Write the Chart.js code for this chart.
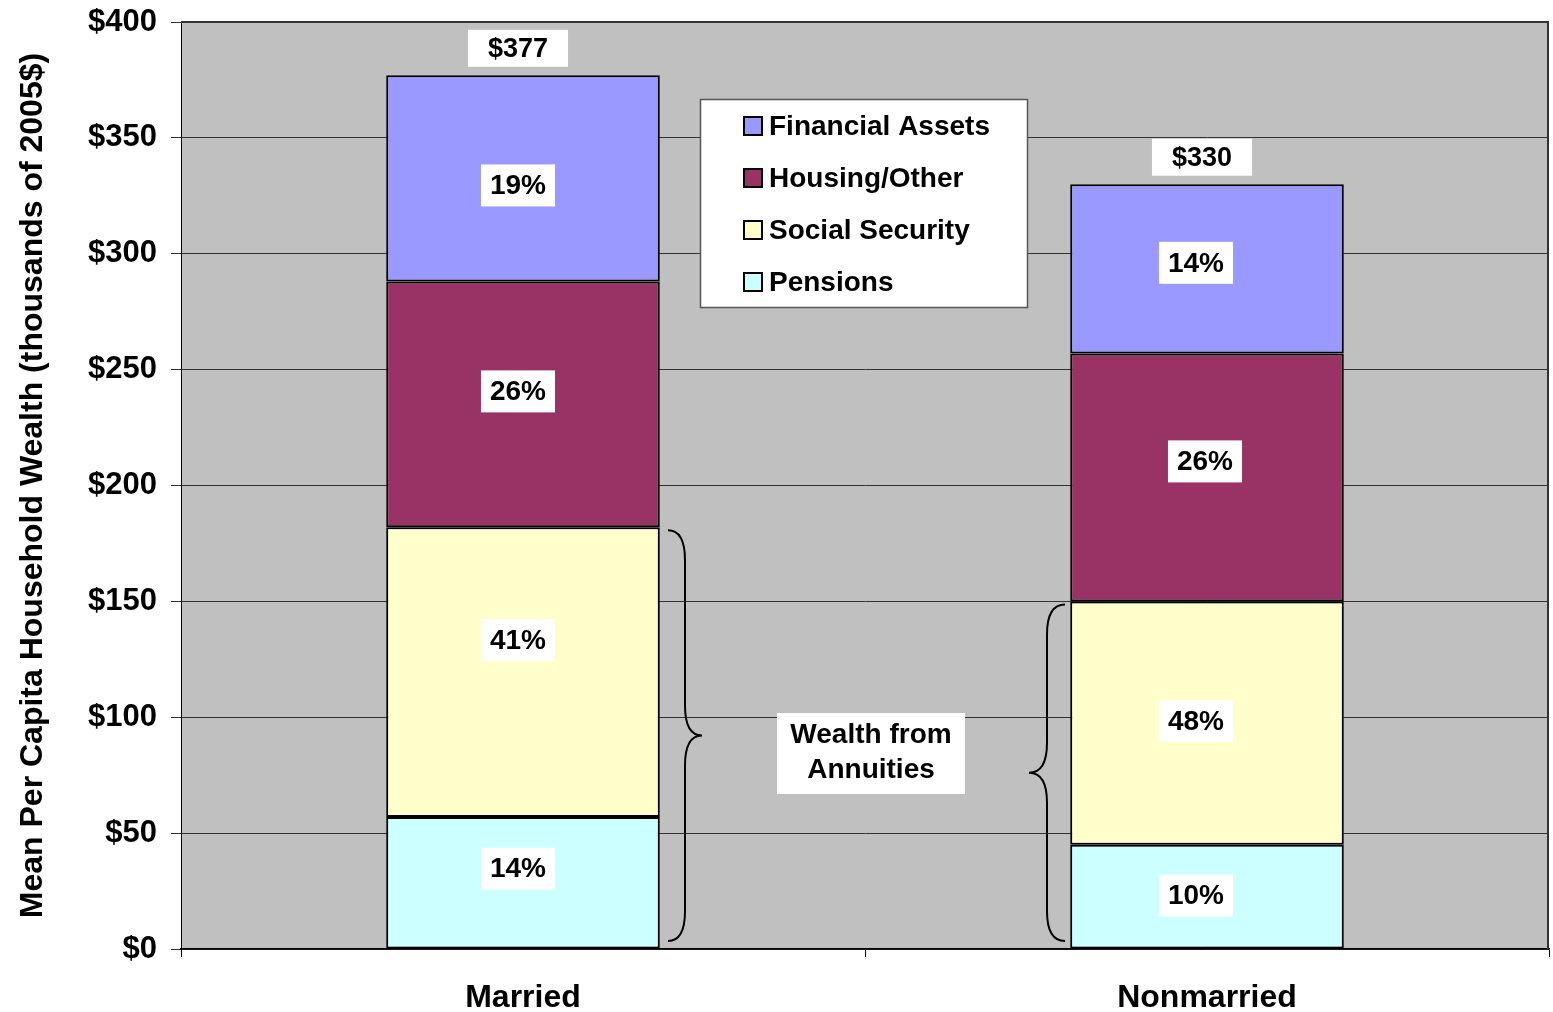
<!DOCTYPE html>
<html>
<head>
<meta charset="utf-8">
<script src="https://cdn.jsdelivr.net/npm/chart.js@4.4.0/dist/chart.umd.min.js"></script>
<style>
  html, body { margin: 0; padding: 0; background: #fff; }
  #wrap { width: 1553px; height: 1012px; }
</style>
</head>
<body>
<div id="wrap"><canvas id="myChart"></canvas></div>
<script>
// data (thousands of 2005$)
var categories = ["Married", "Nonmarried"];
var pensions = [57, 45];
var socialSecurity = [125, 105];
var housing = [106, 107];
var financial = [89, 73];
// percentage labels as printed on the bars
var pensionsPct = ["14%", "10%"];
var socialPct = ["41%", "48%"];
var housingPct = ["26%", "26%"];
var financialPct = ["19%", "14%"];
var yTicks = [0, 50, 100, 150, 200, 250, 300, 350, 400];

var FONT = "'Liberation Sans', Arial, sans-serif";

// hand placement of the percentage boxes (pixel nudges from segment centre)
var labelShiftX = [[-5, -11], [-5, -11], [-5, -2], [-5, -11]];
var labelShiftY = [[-14, -1], [-32, -2], [-13, -16], [7, -6]];

function whiteBox(ctx, text, x, y, size, padX, padY) {
  ctx.font = "bold " + size + "px " + FONT;
  var w = ctx.measureText(text).width;
  ctx.fillStyle = "#fff";
  ctx.fillRect(x - w / 2 - padX, y - size / 2 - padY, w + padX * 2, size + padY * 2);
  ctx.fillStyle = "#000";
  ctx.textAlign = "center";
  ctx.textBaseline = "middle";
  ctx.fillText(text, x, y + 1);
}

// curly brace, tip pointing dir (1 = right, -1 = left)
function brace(ctx, x, yTop, yBot, dir, depth) {
  var mid = (yTop + yBot) / 2;
  var d = depth / 2;
  ctx.beginPath();
  ctx.moveTo(x, yTop);
  ctx.quadraticCurveTo(x + dir * d, yTop, x + dir * d, yTop + 30);
  ctx.lineTo(x + dir * d, mid - 30);
  ctx.quadraticCurveTo(x + dir * d, mid, x + dir * depth, mid);
  ctx.quadraticCurveTo(x + dir * d, mid, x + dir * d, mid + 30);
  ctx.lineTo(x + dir * d, yBot - 30);
  ctx.quadraticCurveTo(x + dir * d, yBot, x, yBot);
  ctx.strokeStyle = "#000";
  ctx.lineWidth = 2;
  ctx.stroke();
}

var plotBg = {
  id: "plotBg",
  beforeDraw: function (chart) {
    var a = chart.chartArea, ctx = chart.ctx;
    ctx.save();
    ctx.fillStyle = "#C0C0C0";
    ctx.fillRect(a.left, a.top, a.right - a.left, a.bottom - a.top);
    ctx.restore();
  },
  beforeDatasetsDraw: function (chart) {
    var a = chart.chartArea, ctx = chart.ctx;
    ctx.save();
    ctx.strokeStyle = "#333";
    ctx.lineWidth = 2;
    ctx.beginPath();
    ctx.moveTo(a.left, a.top);
    ctx.lineTo(a.right - 1, a.top);
    ctx.lineTo(a.right - 1, a.bottom);
    ctx.stroke();
    ctx.restore();
  }
};

var extras = {
  id: "extras",
  afterDraw: function (chart) {
    var ctx = chart.ctx, y = chart.scales.y, x = chart.scales.x;
    ctx.save();
    // percentage labels inside each segment
    var pct = [pensionsPct, socialPct, housingPct, financialPct];
    chart.data.datasets.forEach(function (ds, di) {
      var meta = chart.getDatasetMeta(di);
      meta.data.forEach(function (bar, i) {
        var cy = (bar.y + bar.base) / 2;
        whiteBox(ctx, pct[di][i], bar.x + labelShiftX[di][i], cy + labelShiftY[di][i], 28, 9, 7);
      });
    });
    // totals above bars
    categories.forEach(function (c, i) {
      var total = pensions[i] + socialSecurity[i] + housing[i] + financial[i];
      var top = y.getPixelForValue(total);
      whiteBox(ctx, "$" + total, x.getPixelForValue(i) - 5, top - 27, 27, 20, 5);
    });
    // braces around annuity wealth
    var b0 = y.getPixelForValue(0) - 8;
    var mTop = y.getPixelForValue(pensions[0] + socialSecurity[0]) + 3;
    var nTop = y.getPixelForValue(pensions[1] + socialSecurity[1]) + 3;
    brace(ctx, 668, mTop, b0, 1, 34);
    brace(ctx, 1065, nTop, b0, -1, 36);
    // annotation box
    ctx.fillStyle = "#fff";
    ctx.fillRect(777, 713, 188, 81);
    ctx.fillStyle = "#000";
    ctx.font = "bold 28px " + FONT;
    ctx.textAlign = "center";
    ctx.textBaseline = "middle";
    ctx.fillText("Wealth from", 871, 735);
    ctx.fillText("Annuities", 871, 770);
    // legend
    ctx.fillStyle = "#fff";
    ctx.fillRect(700, 99, 327, 208);
    ctx.strokeStyle = "#555";
    ctx.lineWidth = 1.5;
    ctx.strokeRect(700.5, 99.5, 327, 208);
    var order = [3, 2, 1, 0];
    order.forEach(function (di, k) {
      var ds = chart.data.datasets[di];
      var ly = 126 + k * 52;
      ctx.fillStyle = ds.backgroundColor;
      ctx.fillRect(744, ly - 9, 18, 18);
      ctx.strokeStyle = "#000";
      ctx.lineWidth = 2;
      ctx.strokeRect(744, ly - 9, 18, 18);
      ctx.fillStyle = "#000";
      ctx.font = "bold 28px " + FONT;
      ctx.textAlign = "left";
      ctx.textBaseline = "middle";
      ctx.fillText(ds.label, 769, ly + 1);
    });
    ctx.restore();
  }
};

var ctx = document.getElementById("myChart").getContext("2d");
var myChart = new Chart(ctx, {
  type: "bar",
  data: {
    labels: categories,
    datasets: [
      { label: "Pensions", data: pensions, backgroundColor: "#CCFFFF" },
      { label: "Social Security", data: socialSecurity, backgroundColor: "#FFFFCC" },
      { label: "Housing/Other", data: housing, backgroundColor: "#993366" },
      { label: "Financial Assets", data: financial, backgroundColor: "#9999FF" }
    ]
  },
  options: {
    responsive: true,
    maintainAspectRatio: false,
    animation: false,
    layout: { padding: { top: 22, right: 4, left: 14, bottom: 0 } },
    datasets: {
      bar: {
        borderColor: "#000",
        borderWidth: 2,
        borderSkipped: false,
        categoryPercentage: 1.0,
        barPercentage: 0.4
      }
    },
    plugins: {
      legend: { display: false },
      tooltip: { enabled: false }
    },
    scales: {
      x: {
        stacked: true,
        offset: true,
        grid: { offset: true, drawOnChartArea: false, tickLength: 8, color: "#000" },
        border: { color: "#000", width: 1.5 },
        ticks: { color: "#000", font: { family: FONT, size: 32, weight: "bold" }, padding: 22 },
        afterFit: function (s) { s.height = 63; s.paddingLeft = 0; s.paddingRight = 0; }
      },
      y: {
        stacked: true,
        min: 0,
        max: 400,
        afterBuildTicks: function (s) { s.ticks = yTicks.map(function (v) { return { value: v }; }); },
        grid: { color: "#333", lineWidth: 1, tickLength: 10 },
        border: { color: "#000", width: 1 },
        ticks: {
          color: "#000",
          font: { family: FONT, size: 31, weight: "bold" },
          padding: 14,
          callback: function (v) { return "$" + v; }
        },
        title: {
          display: true,
          text: "Mean Per Capita Household Wealth (thousands of 2005$)",
          color: "#000",
          font: { family: FONT, size: 32, weight: "bold" },
          padding: { top: 0, bottom: 0 }
        },
        afterFit: function (s) { s.width = 167; s.paddingTop = 0; s.paddingBottom = 0; }
      }
    }
  },
  plugins: [plotBg, extras]
});
</script>
</body>
</html>
